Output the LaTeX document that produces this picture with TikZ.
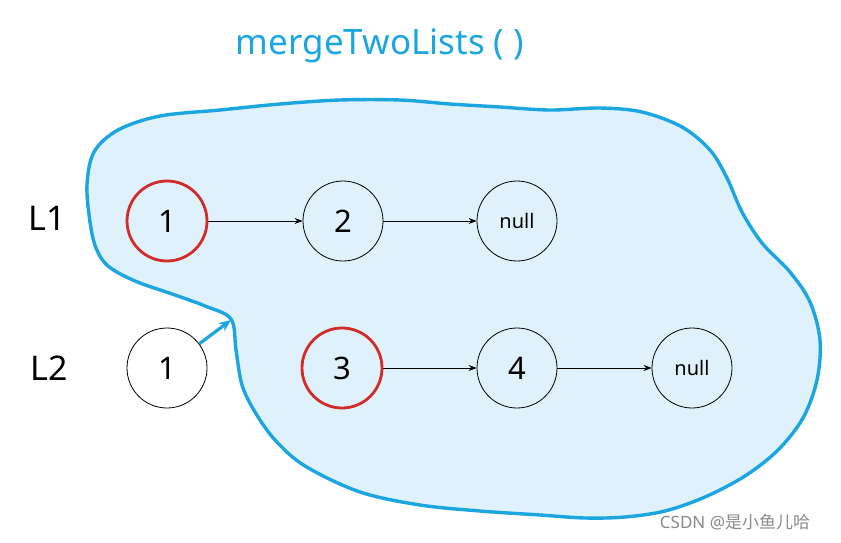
\documentclass[tikz,border=0pt]{standalone}
\usepackage{fontspec}
\setmainfont{Noto Sans}
\newfontfamily\cjkfont{Noto Sans CJK SC}
\usetikzlibrary{arrows.meta}
\definecolor{blobfill}{HTML}{DFF2FB}
\definecolor{blobline}{HTML}{1BA5E1}
\definecolor{redc}{HTML}{D32A2A}
\definecolor{wm}{HTML}{8A8A8A}
\tikzset{
  lnode/.style={circle, draw=black, line width=0.8pt, minimum size=80pt, inner sep=0pt, font=\fontsize{31}{34}\selectfont},
  rednode/.style={lnode, draw=redc, line width=2.8pt},
  nullnode/.style={lnode, font=\fontsize{20}{24}\selectfont},
  link/.style={-{Stealth[length=8pt,width=6pt]}, line width=0.8pt, black},
  lbl/.style={font=\fontsize{34}{38}\selectfont},
  bluearrow/.style={-{Stealth[length=12pt,width=10pt]}, line width=3.2pt, blobline}
}
\begin{document}
\begin{tikzpicture}[x=1pt,y=-1pt]
\useasboundingbox (0,0) rectangle (841,543);
% blob
\draw[blobline, line width=3.4pt, fill=blobfill] plot[smooth cycle, tension=0.55] coordinates {
 (231,319) (236,350) (242,385) (255,412) (275,440) (305,466) (360,492) (420,505)
 (480,511) (540,515) (585,518) (625,517) (665,511) (705,497) (745,476) (778,450)
 (803,418) (817,380) (820,340) (810,302) (790,272) (762,243) (742,212) (727,178)
 (710,150) (682,127) (642,112) (600,108) (550,110) (500,107) (450,104) (400,100)
 (340,100) (280,104) (220,110) (160,116) (118,130) (94,152) (87,185) (90,222)
 (96,248) (108,266) (135,281) (175,295) (205,306)};
% title
\node[blobline, font=\fontsize{35}{40}\selectfont] (title) at (380,46) {mergeTwoLists ( )};
% labels
\node[lbl] (L1) at (47,218) {L1};
\node[lbl] (L2) at (49,368) {L2};
% list 1
\node[rednode] (a1) at (167,221) {1};
\node[lnode] (a2) at (343,221) {2};
\node[nullnode] (an) at (517,221) {null};
% list 2
\node[lnode, fill=white] (b1) at (167,368) {1};
\node[rednode] (b3) at (342,368) {3};
\node[lnode] (b4) at (517,368) {4};
\node[nullnode] (bn) at (692,368) {null};
\draw[link] (a1) -- (a2);
\draw[link] (a2) -- (an);
\draw[link] (b3) -- (b4);
\draw[link] (b4) -- (bn);
\coordinate (tip) at (231,320);
\draw[bluearrow] (b1) -- (tip);
% watermark
\node[wm, font=\fontsize{17}{20}\selectfont] (wmk) at (735,522) {CSDN @{\cjkfont 是小鱼儿哈}};
\end{tikzpicture}
\end{document}
